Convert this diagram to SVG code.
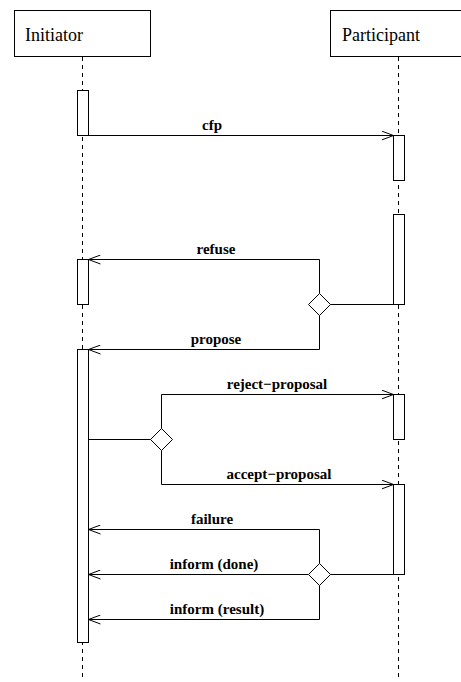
<svg xmlns="http://www.w3.org/2000/svg" width="461" height="682" viewBox="0 0 461 682">
<defs>
<style>
.box{fill:#fff;stroke:#000;stroke-width:1}
.life{stroke:#000;stroke-width:1;stroke-dasharray:4 4;fill:none}
.act{fill:#fff;stroke:#000;stroke-width:1}
.msg{fill:none;stroke:#000;stroke-width:1}
.dia{fill:#fff;stroke:#000;stroke-width:1}
.name{font-family:"Liberation Serif","Times New Roman",serif;font-size:18px;fill:#000}
.lbl{font-family:"Liberation Serif","Times New Roman",serif;font-size:15px;font-weight:bold;fill:#000;text-anchor:middle}
</style>
<marker id="arr" viewBox="0 0 12 10" refX="12" refY="5" markerWidth="12" markerHeight="10" markerUnits="userSpaceOnUse" orient="auto">
<path d="M0,0.5 L12,5 L0,9.5" fill="none" stroke="#000" stroke-width="1"/>
</marker>
</defs>
<rect width="461" height="682" fill="#fff"/>
<g id="initiator">
<rect class="box" x="14.5" y="10.5" width="136" height="46"/>
<text class="name" x="25" y="41">Initiator</text>
<line class="life" x1="82.5" y1="57" x2="82.5" y2="680"/>
</g>
<g id="participant">
<rect class="box" x="330.5" y="10.5" width="136" height="46"/>
<text class="name" x="342" y="41">Participant</text>
<line class="life" x1="398.5" y1="57" x2="398.5" y2="680"/>
</g>
<g id="activations">
<rect class="act" x="77.5" y="90.5" width="11" height="45"/>
<rect class="act" x="393.5" y="135.5" width="11" height="45"/>
<rect class="act" x="393.5" y="214.5" width="11" height="90"/>
<rect class="act" x="77.5" y="259.5" width="11" height="45"/>
<rect class="act" x="77.5" y="349.5" width="11" height="293"/>
<rect class="act" x="393.5" y="394.5" width="11" height="45"/>
<rect class="act" x="393.5" y="484.5" width="11" height="90"/>
</g>
<g id="connectors">
<line class="msg" x1="88.5" y1="135.5" x2="393.5" y2="135.5" marker-end="url(#arr)"/>
<line class="msg" x1="393.5" y1="304.5" x2="330.5" y2="304.5"/>
<polyline class="msg" points="319.5,293.5 319.5,259.5 88.5,259.5" marker-end="url(#arr)"/>
<polyline class="msg" points="319.5,315.5 319.5,349.5 88.5,349.5" marker-end="url(#arr)"/>
<line class="msg" x1="88.5" y1="439.5" x2="150.5" y2="439.5"/>
<polyline class="msg" points="161.5,428.5 161.5,394.5 393.5,394.5" marker-end="url(#arr)"/>
<polyline class="msg" points="161.5,450.5 161.5,484.5 393.5,484.5" marker-end="url(#arr)"/>
<line class="msg" x1="393.5" y1="574.5" x2="330.5" y2="574.5"/>
<polyline class="msg" points="319.5,563.5 319.5,529.5 88.5,529.5" marker-end="url(#arr)"/>
<line class="msg" x1="308.5" y1="574.5" x2="88.5" y2="574.5" marker-end="url(#arr)"/>
<polyline class="msg" points="319.5,585.5 319.5,619.5 88.5,619.5" marker-end="url(#arr)"/>
</g>
<g id="decisions">
<polygon class="dia" points="319.5,293.5 330.5,304.5 319.5,315.5 308.5,304.5"/>
<polygon class="dia" points="161.5,428.5 172.5,439.5 161.5,450.5 150.5,439.5"/>
<polygon class="dia" points="319.5,563.5 330.5,574.5 319.5,585.5 308.5,574.5"/>
</g>
<g id="labels">
<text class="lbl" x="212" y="130">cfp</text>
<text class="lbl" x="216" y="254">refuse</text>
<text class="lbl" x="216" y="344">propose</text>
<text class="lbl" x="277" y="389">reject−proposal</text>
<text class="lbl" x="279" y="479">accept−proposal</text>
<text class="lbl" x="212" y="524">failure</text>
<text class="lbl" x="214" y="569">inform (done)</text>
<text class="lbl" x="217" y="614">inform (result)</text>
</g>
</svg>
